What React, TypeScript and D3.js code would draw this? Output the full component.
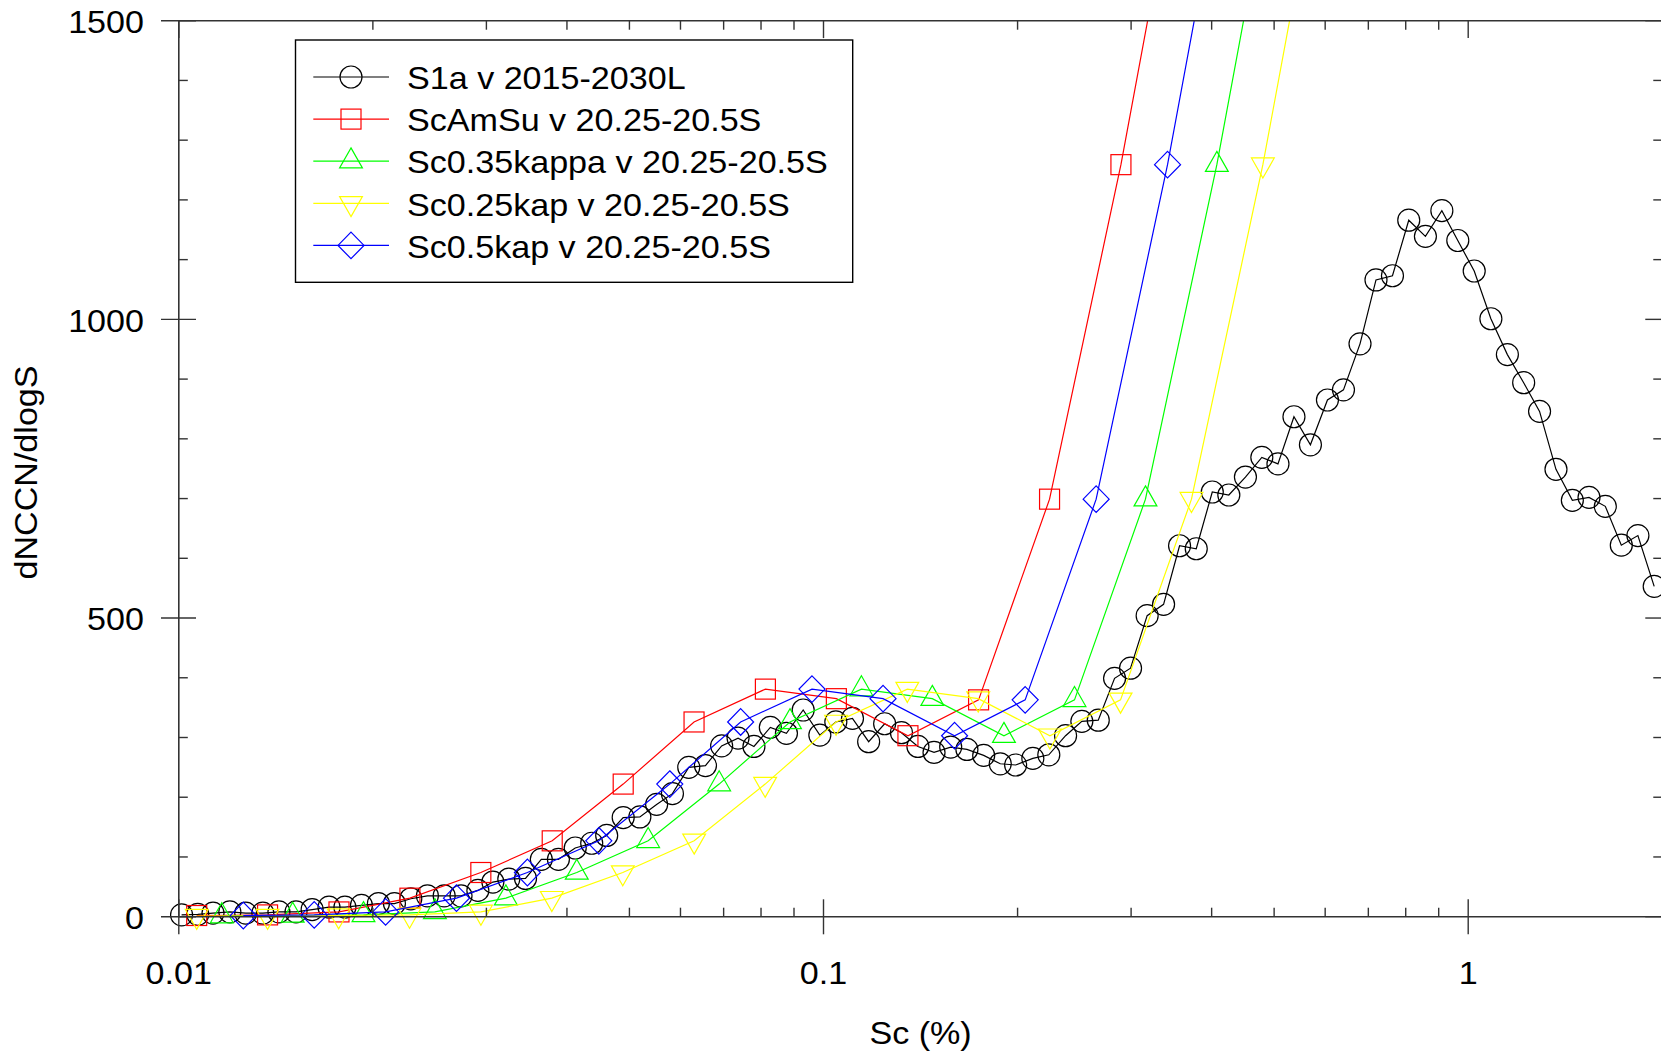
import React from 'react';
import * as d3 from 'd3';

// ---------------- data ----------------
const s1aSc = [
  0.0101, 0.0107, 0.0113, 0.0120, 0.0127, 0.0135, 0.0143, 0.0152, 0.0161, 0.0171,
  0.0181, 0.0192, 0.0204, 0.0216, 0.0229, 0.0243, 0.0258, 0.0274, 0.0291, 0.0307,
  0.0325, 0.0345, 0.0365, 0.0388, 0.0412, 0.0437, 0.0461, 0.0489, 0.0519, 0.0551,
  0.0583, 0.0618, 0.0656, 0.0695, 0.0737, 0.0780, 0.0827, 0.0876, 0.0930, 0.0987,
  0.1045, 0.1109, 0.1175, 0.1244, 0.1321, 0.1401, 0.1484, 0.1575, 0.1669, 0.1772,
  0.1880, 0.1986, 0.2112, 0.2236, 0.2374, 0.2516, 0.2668, 0.2828, 0.2994, 0.3177,
  0.3369, 0.3567, 0.3786, 0.4009, 0.4253, 0.4513, 0.4785, 0.5069, 0.5367, 0.5692,
  0.6049, 0.6405, 0.6795, 0.7194, 0.7630, 0.8087, 0.8583, 0.9102, 0.9635, 1.0217,
  1.0844, 1.1502, 1.2191, 1.2903, 1.3682, 1.4506, 1.5396, 1.6318, 1.7278, 1.8333, 1.9431,
];
const s1aN = [
  3, 4, 6, 8, 6, 6, 8, 8, 12, 16,
  16, 19, 22, 22, 30, 35, 35, 35, 44, 58,
  63, 64, 96, 96, 115, 123, 136, 166, 167, 188,
  206, 250, 253, 286, 299, 285, 317, 307, 346, 304,
  326, 332, 293, 323, 308, 285, 275, 284, 280, 270,
  256, 254, 265, 271, 303, 327, 329, 399, 416, 504,
  523, 621, 616, 711, 706, 736, 769, 758, 837, 790,
  865, 882, 959, 1066, 1073, 1166, 1139, 1182, 1132, 1081,
  1001, 941, 894, 846, 749, 697, 702, 687, 622, 638, 553,
];

const amSuSc = [0.01066, 0.01373, 0.01772, 0.02283, 0.02941, 0.03795, 0.0489, 0.06298, 0.08126, 0.1047, 0.1352, 0.174, 0.2242, 0.2893, 0.3728];
const amSuN = [2, 3, 8, 31, 74, 127, 222, 326, 381, 365, 303, 363, 699, 1259, 1900];

const k035Sc = [0.01166, 0.01502, 0.01934, 0.02496, 0.03216, 0.04143, 0.05346, 0.06889, 0.08872, 0.1145, 0.1475, 0.1905, 0.2451, 0.3158, 0.4075, 0.5252];
const k035N = [1, 2, 3, 8, 31, 74, 127, 222, 326, 381, 365, 303, 363, 699, 1259, 1900];

const k025Sc = [0.01066, 0.01373, 0.0177, 0.0228, 0.02942, 0.0379, 0.04883, 0.06301, 0.08119, 0.1046, 0.1349, 0.1738, 0.2245, 0.2889, 0.3722, 0.4803, 0.619];
const k025N = [1, 1, 2, 3, 8, 31, 74, 127, 222, 326, 381, 365, 303, 363, 699, 1259, 1900];

const k05Sc = [0.01259, 0.01622, 0.02093, 0.02696, 0.03473, 0.04482, 0.05775, 0.07438, 0.09597, 0.1237, 0.1597, 0.2055, 0.2648, 0.3417, 0.4403];
const k05N = [2, 3, 8, 31, 74, 127, 222, 326, 381, 365, 303, 363, 699, 1259, 1900];

const seriesNames = [
  'S1a v 2015-2030L',
  'ScAmSu v 20.25-20.5S',
  'Sc0.35kappa v 20.25-20.5S',
  'Sc0.25kap v 20.25-20.5S',
  'Sc0.5kap v 20.25-20.5S',
];
const seriesColors = ['#000000', '#ff0000', '#00ff00', '#ffff00', '#0000ff'];
const seriesShapes = ['circle', 'square', 'triUp', 'triDown', 'diamond'];

const xMajorTicks = [0.01, 0.1, 1];
const xTickLabels = ['0.01', '0.1', '1'];
const yMajorTicks = [0, 500, 1000, 1500];
const yTickLabels = ['0', '500', '1000', '1500'];
const xLabel = 'Sc (%)';
const yLabel = 'dNCCN/dlogS';

// ---------------- layout ----------------
const W = 1661;
const H = 1056;
const L = 178.8;
const DEC = 644.7;
const R = L + DEC * Math.log10(200);
const T = 20.7;
const B = 916.7;
const FONT = "'Liberation Sans', Arial, sans-serif";
const FS = 31;
const SX = 1.1;
const AX = '#333333';

function Marker({ shape, cx, cy, color }: { shape: string; cx: number; cy: number; color: string }) {
  const common = { fill: 'none', stroke: color, strokeWidth: 1.2 };
  switch (shape) {
    case 'circle':
      return <circle cx={cx} cy={cy} r={11} {...common} />;
    case 'square':
      return <rect x={cx - 10} y={cy - 10} width={20} height={20} {...common} />;
    case 'triUp':
      return <polygon points={`${cx},${cy - 13.3} ${cx + 11.4},${cy + 6.7} ${cx - 11.4},${cy + 6.7}`} {...common} />;
    case 'triDown':
      return <polygon points={`${cx},${cy + 13.3} ${cx + 11.4},${cy - 6.7} ${cx - 11.4},${cy - 6.7}`} {...common} />;
    default:
      return <polygon points={`${cx},${cy - 13.3} ${cx + 13},${cy} ${cx},${cy + 13.3} ${cx - 13},${cy}`} {...common} />;
  }
}

function Txt({ x, y, anchor, children, rotate }: any) {
  const tr = rotate
    ? `translate(${x},${y}) rotate(${rotate}) scale(${SX},1)`
    : `translate(${x},${y}) scale(${SX},1)`;
  return (
    <text transform={tr} textAnchor={anchor} fontFamily={FONT} fontSize={FS} fill="#000">
      {children}
    </text>
  );
}

export default function App() {
  const x = d3.scaleLog().domain([0.01, 2]).range([L, R]);
  const y = d3.scaleLinear().domain([0, 1500]).range([B, T]);

  const seriesSc = [s1aSc, amSuSc, k035Sc, k025Sc, k05Sc];
  const seriesN = [s1aN, amSuN, k035N, k025N, k05N];
  const line = d3
    .line<[number, number]>()
    .x((d) => x(d[0]))
    .y((d) => y(d[1]));

  const minorX: number[] = [];
  [0.01, 0.1, 1].forEach((dec) => {
    for (let m = 2; m <= 9; m++) {
      const v = dec * m;
      if (v < 2) minorX.push(v);
    }
  });
  const minorY = d3.range(0, 1501, 100).filter((v) => v % 500 !== 0);

  const legendRows = [77, 119.1, 161.2, 203.3, 245.4];

  return (
    <svg width={W} height={H} style={{ position: 'absolute', left: 0, top: 0, background: '#fff' }}>
      <defs>
        <clipPath id="plotclip">
          <rect x={L} y={T} width={R - L} height={B - T} />
        </clipPath>
      </defs>
      <rect x={0} y={0} width={W} height={H} fill="#fff" />

      {/* series */}
      {seriesSc.map((sc, si) => {
        const pts = sc.map((v, i) => [v, seriesN[si][i]] as [number, number]);
        return (
          <g key={si}>
            <path d={line(pts) || ''} fill="none" stroke={seriesColors[si]} strokeWidth={1.2} clipPath="url(#plotclip)" />
            {pts
              .filter((p) => p[1] <= 1500 && p[0] >= 0.01 && p[0] <= 2)
              .map((p, i) => (
                <Marker key={i} shape={seriesShapes[si]} cx={x(p[0])} cy={y(p[1])} color={seriesColors[si]} />
              ))}
          </g>
        );
      })}

      {/* axes frame */}
      <line x1={L} x2={R} y1={B} y2={B} stroke={AX} strokeWidth={1.6} />
      <line x1={L} x2={R} y1={T} y2={T} stroke={AX} strokeWidth={1.6} />
      <line x1={L} x2={L} y1={T} y2={B} stroke={AX} strokeWidth={1.6} />
      <line x1={R} x2={R} y1={T} y2={B} stroke={AX} strokeWidth={1.6} />

      {/* x ticks */}
      {xMajorTicks.map((v) => (
        <g key={'xm' + v}>
          <line x1={x(v)} x2={x(v)} y1={B - 17.4} y2={B + 17.6} stroke={AX} strokeWidth={1.4} />
          <line x1={x(v)} x2={x(v)} y1={T} y2={T + 17.4} stroke={AX} strokeWidth={1.4} />
        </g>
      ))}
      {minorX.map((v) => (
        <g key={'xn' + v}>
          <line x1={x(v)} x2={x(v)} y1={B - 9} y2={B} stroke={AX} strokeWidth={1.4} />
          <line x1={x(v)} x2={x(v)} y1={T} y2={T + 9} stroke={AX} strokeWidth={1.4} />
        </g>
      ))}
      {/* y ticks */}
      {yMajorTicks.map((v) => (
        <g key={'ym' + v}>
          <line x1={L - 17.8} x2={L + 17.2} y1={y(v)} y2={y(v)} stroke={AX} strokeWidth={1.4} />
          <line x1={R - 17} x2={R} y1={y(v)} y2={y(v)} stroke={AX} strokeWidth={1.4} />
        </g>
      ))}
      {minorY.map((v) => (
        <g key={'yn' + v}>
          <line x1={L} x2={L + 9} y1={y(v)} y2={y(v)} stroke={AX} strokeWidth={1.4} />
          <line x1={R - 9} x2={R} y1={y(v)} y2={y(v)} stroke={AX} strokeWidth={1.4} />
        </g>
      ))}

      {/* tick labels */}
      {xMajorTicks.map((v, i) => (
        <Txt key={'xl' + v} x={x(v)} y={984} anchor="middle">
          {xTickLabels[i]}
        </Txt>
      ))}
      {yMajorTicks.map((v, i) => (
        <Txt key={'yl' + v} x={144} y={y(v) + 12.2} anchor="end">
          {yTickLabels[i]}
        </Txt>
      ))}
      <Txt x={(L + R) / 2} y={1044} anchor="middle">
        {xLabel}
      </Txt>
      <Txt x={37} y={472.5} anchor="middle" rotate={-90}>
        {yLabel}
      </Txt>

      {/* legend */}
      <rect x={295.5} y={40} width={557.2} height={242.3} fill="#fff" stroke="#000" strokeWidth={1.4} />
      {seriesNames.map((name, i) => (
        <g key={'lg' + i}>
          <line x1={313.3} x2={389} y1={legendRows[i]} y2={legendRows[i]} stroke={seriesColors[i]} strokeWidth={1.2} />
          <Marker shape={seriesShapes[i]} cx={351} cy={legendRows[i]} color={seriesColors[i]} />
          <Txt x={407} y={legendRows[i] + 12.2} anchor="start">
            {name}
          </Txt>
        </g>
      ))}
    </svg>
  );
}
